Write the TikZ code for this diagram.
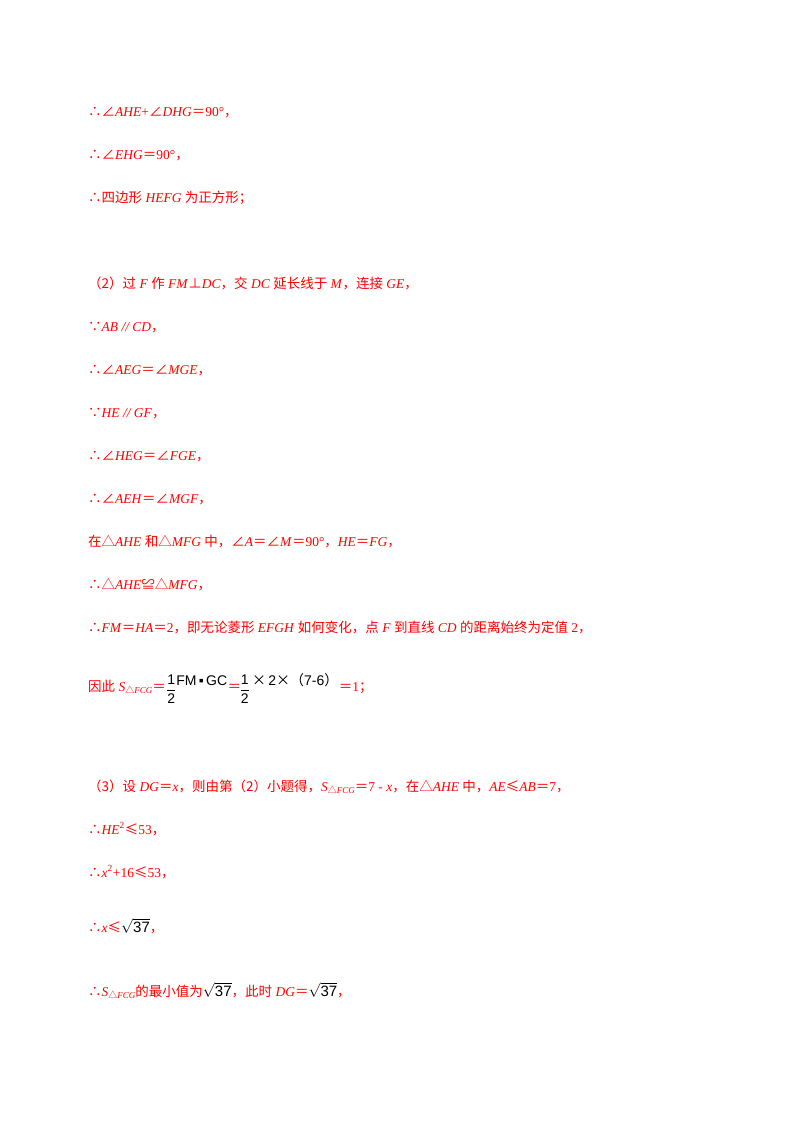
\documentclass[tikz,border=0pt]{standalone}
\usepackage{amsmath}
\usepackage{fontspec}
\setmainfont{Liberation Serif}
\newfontfamily\zh{Noto Sans CJK SC}
\newfontfamily\ms{Liberation Sans}
\newcommand{\Z}[1]{{\zh #1}}
\newcommand{\I}[1]{\textit{#1}}
\definecolor{tred}{RGB}{255,0,0}
\begin{document}
\begin{tikzpicture}[x=1pt,y=-1pt,
  ln/.style={anchor=base west,inner sep=0pt,text=tred,font=\fontsize{13.5}{16}\selectfont},
  fr/.style={anchor=base west,inner sep=0pt,text=black,font=\ms\fontsize{14}{16}\selectfont}]
\useasboundingbox (0,0) rectangle (800,1132);
\node[ln] (l1) at (88,116) {\Z{∴∠}\I{AHE}+\Z{∠}\I{DHG}\Z{＝}90°\Z{，}};
\node[ln] (l2) at (88,159) {\Z{∴∠}\I{EHG}\Z{＝}90°\Z{，}};
\node[ln] (l3) at (88,202) {\Z{∴四边形} \I{HEFG} \Z{为正方形；}};
\node[ln] (l4) at (88,288) {\Z{（2）过} \I{F} \Z{作} \I{FM}\Z{⊥}\I{DC}\Z{，交} \I{DC} \Z{延长线于} \I{M}\Z{，连接} \I{GE}\Z{，}};
\node[ln] (l5) at (88,331) {\Z{∵}\I{AB // CD}\Z{，}};
\node[ln] (l6) at (88,374) {\Z{∴∠}\I{AEG}\Z{＝∠}\I{MGE}\Z{，}};
\node[ln] (l7) at (88,417) {\Z{∵}\I{HE // GF}\Z{，}};
\node[ln] (l8) at (88,460) {\Z{∴∠}\I{HEG}\Z{＝∠}\I{FGE}\Z{，}};
\node[ln] (l9) at (88,503) {\Z{∴∠}\I{AEH}\Z{＝∠}\I{MGF}\Z{，}};
\node[ln] (l10) at (88,546) {\Z{在△}\I{AHE} \Z{和△}\I{MFG} \Z{中，∠}\I{A}\Z{＝∠}\I{M}\Z{＝}90°\Z{，}\I{HE}\Z{＝}\I{FG}\Z{，}};
\node[ln] (l11) at (88,589) {\Z{∴△}\I{AHE}\Z{≌△}\I{MFG}\Z{，}};
\node[ln] (l12) at (88,632) {\Z{∴}\I{FM}\Z{＝}\I{HA}\Z{＝}2\Z{，即无论菱形} \I{EFGH} \Z{如何变化，点} \I{F} \Z{到直线} \I{CD} \Z{的距离始终为定值} 2\Z{，}};
\node[ln] (l13) at (88,691) {\Z{因此} \I{S}\raisebox{-2pt}{\fontsize{9}{9}\selectfont\Z{△}\I{FCG}}\Z{＝}};
\node[fr] (f1) at (l13.base east) {\raisebox{-3pt}{$\dfrac{\text{1}}{\text{2}}$}\raisebox{6pt}{FM\,▪\,GC}};
\node[ln] (e1) at (f1.base east) {\Z{＝}};
\node[fr] (f2) at ([xshift=-2pt]e1.base east) {\raisebox{-3pt}{$\dfrac{\text{1}}{\text{2}}$}\raisebox{6pt}{\,\Z{×}\,2\Z{×}\Z{（}7-6\Z{）}}};
\node[ln] (e2) at (f2.base east) {\Z{＝}1\Z{；}};
\node[ln] (l14) at (88,791) {\Z{（3）设} \I{DG}\Z{＝}\I{x}\Z{，则由第（2）小题得，}\I{S}\raisebox{-2pt}{\fontsize{9}{9}\selectfont\Z{△}\I{FCG}}\Z{＝}7 - \I{x}\Z{，在△}\I{AHE} \Z{中，}\I{AE}\Z{≤}\I{AB}\Z{＝}7\Z{，}};
\node[ln] (l15) at (88,834) {\Z{∴}\I{HE}\textsuperscript{2}\Z{≤}53\Z{，}};
\node[ln] (l16) at (88,877) {\Z{∴}\I{x}\textsuperscript{2}+16\Z{≤}53\Z{，}};
\node[ln] (l17) at (88,932) {\Z{∴}\I{x}\Z{≤}{\color{black}\ms\fontsize{15}{17}\selectfont$\sqrt{\text{37}}$}\Z{，}};
\node[ln] (l18) at (88,996) {\Z{∴}\I{S}\raisebox{-2pt}{\fontsize{9}{9}\selectfont\Z{△}\I{FCG}}\Z{的最小值为}{\color{black}\ms\fontsize{15}{17}\selectfont$\sqrt{\text{37}}$}\Z{，此时} \I{DG}\Z{＝}{\color{black}\ms\fontsize{15}{17}\selectfont$\sqrt{\text{37}}$}\Z{，}};
\end{tikzpicture}
\end{document}
